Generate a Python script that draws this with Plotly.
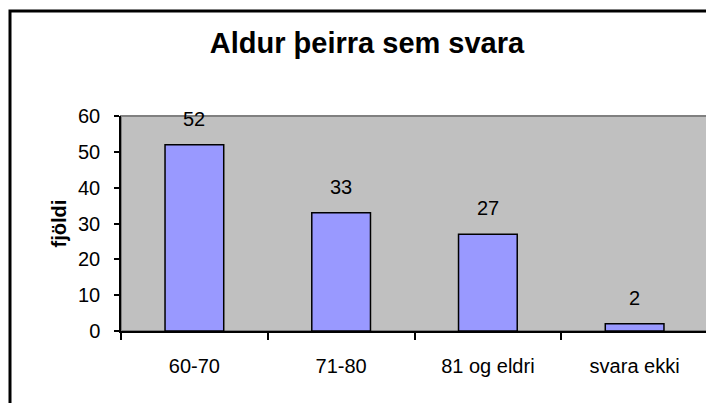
import plotly.graph_objects as go

# data
categories = ["60-70", "71-80", "81 og eldri", "svara ekki"]
counts = [52, 33, 27, 2]
y_ticks = [0, 10, 20, 30, 40, 50, 60]

FONT = "Arial, Liberation Sans, sans-serif"

# the page shows the figure offset by the 8px body margin, so margins are trimmed by that
L, R, T, B = 113, 14, 108, 80
PW = 714 - L - R
PH = 403 - T - B

fig = go.Figure()
fig.add_trace(go.Bar(
    x=categories,
    y=counts,
    width=0.4,
    marker=dict(color="#9999FF", line=dict(color="black", width=1.5)),
    hoverinfo="x+y",
))

# value labels sit a fair distance above each bar, as in Excel
for cat, val in zip(categories, counts):
    fig.add_annotation(
        x=cat, y=val, text=str(val), showarrow=False,
        yanchor="bottom", yshift=13,
        font=dict(family=FONT, size=20, color="black"),
    )

# plot-area frame (grey) and the outer chart border (black)
fig.add_shape(type="rect", xref="paper", yref="paper", x0=0, y0=0, x1=1, y1=1,
              line=dict(color="#808080", width=2), layer="below")
fig.add_shape(type="rect", xref="paper", yref="paper",
              x0=(2 - L) / PW, y0=-0.6, x1=1.2, y1=(PH + T - 3) / PH,
              line=dict(color="black", width=3))

fig.update_layout(
    width=714, height=403,
    margin=dict(l=L, r=R, t=T, b=B),
    paper_bgcolor="white",
    plot_bgcolor="#C0C0C0",
    showlegend=False,
    font=dict(family=FONT, color="black"),
    title=dict(
        text="<b>Aldur þeirra sem svara</b>",
        font=dict(family=FONT, size=29, color="black"),
        x=359 / 714, xref="container", xanchor="center",
        y=1 - 35 / 403, yref="container", yanchor="middle",
    ),
)

fig.update_xaxes(
    type="category",
    showline=True, linecolor="black", linewidth=1.5,
    ticks="outside", tickson="boundaries", ticklen=7, tickcolor="black", tickwidth=1.5,
    tickfont=dict(family=FONT, size=20, color="black"),
    ticklabelstandoff=16,
    showgrid=False,
)
fig.update_yaxes(
    range=[0, 60], tickvals=y_ticks,
    showline=True, linecolor="black", linewidth=1.5,
    ticks="outside", ticklen=5, tickcolor="black", tickwidth=1.5,
    tickfont=dict(family=FONT, size=20, color="black"),
    ticklabelstandoff=10,
    showgrid=False, zeroline=False,
    title=dict(text="<b>fjöldi</b>", font=dict(family=FONT, size=20, color="black"), standoff=6),
)

fig.write_html("out.html")
